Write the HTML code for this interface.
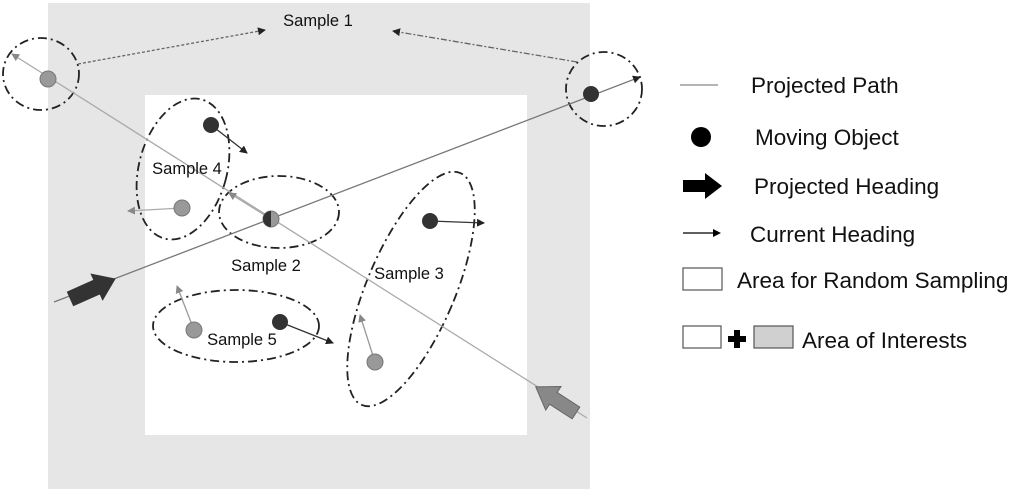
<!DOCTYPE html>
<html><head><meta charset="utf-8"><style>
html,body{margin:0;padding:0;background:#fff;}
svg{display:block;font-family:"Liberation Sans",sans-serif;}
</style></head><body>
<svg width="1024" height="492" viewBox="0 0 1024 492" xmlns="http://www.w3.org/2000/svg">
<defs>
<marker id="ab" markerWidth="8" markerHeight="8" refX="7" refY="4" orient="auto" markerUnits="userSpaceOnUse"><path d="M0,0 L8,4 L0,8 z" fill="#222"/></marker>
<marker id="ag" markerWidth="8" markerHeight="8" refX="7" refY="4" orient="auto" markerUnits="userSpaceOnUse"><path d="M0,0 L8,4 L0,8 z" fill="#888"/></marker>
</defs>
<rect x="48" y="3" width="542" height="486" fill="#e6e6e6"/>
<rect x="145" y="95" width="382" height="340" fill="#fff"/>
<g fill="none" stroke="#222" stroke-width="1.8" stroke-dasharray="9,4,2,4">
<ellipse cx="41" cy="74" rx="38" ry="36"/>
<ellipse cx="604" cy="89" rx="38" ry="37"/>
<ellipse cx="183" cy="169" rx="44" ry="72" transform="rotate(15 183 169)"/>
<ellipse cx="279" cy="212" rx="60" ry="36"/>
<ellipse cx="411" cy="289" rx="44" ry="126" transform="rotate(23 411 289)"/>
<ellipse cx="236" cy="326" rx="83" ry="36"/>
</g>
<line x1="54" y1="302" x2="640" y2="77" stroke="#777" stroke-width="1.3" marker-end="url(#ab)"/>
<line x1="587" y1="418" x2="12" y2="54" stroke="#aaa" stroke-width="1.3" marker-end="url(#ag)"/>
<line x1="78" y1="64" x2="265" y2="30" stroke="#666" stroke-width="1.3" stroke-dasharray="3,2" marker-end="url(#ab)"/>
<line x1="577" y1="62" x2="393" y2="31" stroke="#666" stroke-width="1.3" stroke-dasharray="6,2,2,2" marker-end="url(#ab)"/>
<line x1="211" y1="125" x2="247" y2="153" stroke="#333" stroke-width="1.3" marker-end="url(#ab)"/>
<line x1="182" y1="208" x2="128" y2="211" stroke="#aaa" stroke-width="1.3" marker-end="url(#ag)"/>
<line x1="271" y1="219" x2="229" y2="193" stroke="#aaa" stroke-width="1.3" marker-end="url(#ag)"/>
<line x1="430" y1="221" x2="484" y2="223" stroke="#333" stroke-width="1.3" marker-end="url(#ab)"/>
<line x1="375" y1="362" x2="360" y2="315" stroke="#999" stroke-width="1.3" marker-end="url(#ag)"/>
<line x1="194" y1="330" x2="177" y2="286" stroke="#999" stroke-width="1.3" marker-end="url(#ag)"/>
<line x1="280" y1="322" x2="333" y2="343" stroke="#333" stroke-width="1.3" marker-end="url(#ab)"/>
<circle cx="48" cy="79" r="8" fill="#999" stroke="#777"/>
<circle cx="591" cy="94" r="8" fill="#333"/>
<circle cx="211" cy="125" r="8" fill="#333"/>
<circle cx="182" cy="208" r="8" fill="#999" stroke="#777"/>
<circle cx="271" cy="219" r="8" fill="#999" stroke="#777"/>
<path d="M271,211 A8,8 0 0 0 271,227 z" fill="#333"/>
<circle cx="430" cy="221" r="8" fill="#333"/>
<circle cx="375" cy="362" r="8" fill="#999" stroke="#777"/>
<circle cx="194" cy="330" r="8" fill="#999" stroke="#777"/>
<circle cx="280" cy="322" r="8" fill="#333"/>
<g transform="translate(70,299) rotate(-24)"><path d="M0,-8 L29,-8 L29,-15 L50,0 L29,15 L29,8 L0,8 z" fill="#333"/></g>
<g transform="translate(576,413) rotate(213)"><path d="M0,-7 L27,-7 L27,-14 L48,0 L27,14 L27,7 L0,7 z" fill="#888" stroke="#666"/></g>
<g font-size="16.5" fill="#111" text-anchor="middle">
<text x="318" y="26">Sample 1</text>
<text x="187" y="174">Sample 4</text>
<text x="266" y="271">Sample 2</text>
<text x="409" y="279">Sample 3</text>
<text x="242" y="345">Sample 5</text>
</g>
<line x1="680" y1="85" x2="718" y2="85" stroke="#888" stroke-width="1.2"/>
<circle cx="701" cy="137" r="10" fill="#000"/>
<path d="M683,180 L705,180 L705,173 L722,186 L705,199 L705,192 L683,192 z" fill="#000"/>
<line x1="683" y1="233" x2="714" y2="233" stroke="#000" stroke-width="1.2"/>
<path d="M713,229 L721,233 L713,237 z" fill="#000"/>
<rect x="683" y="268" width="39" height="22" fill="#fff" stroke="#555" stroke-width="1.2"/>
<rect x="683" y="326" width="38" height="22" fill="#fff" stroke="#555" stroke-width="1.2"/>
<path d="M734,330 h6 v6 h6 v6 h-6 v6 h-6 v-6 h-6 v-6 h6 z" fill="#000"/>
<rect x="754" y="326" width="39" height="22" fill="#d0d0d0" stroke="#555" stroke-width="1.2"/>
<g font-size="22.5" fill="#111">
<text x="751" y="93">Projected Path</text>
<text x="755" y="145">Moving Object</text>
<text x="754" y="194">Projected Heading</text>
<text x="750" y="242">Current Heading</text>
<text x="737" y="288">Area for Random Sampling</text>
<text x="802" y="348">Area of Interests</text>
</g>
</svg>
</body></html>
